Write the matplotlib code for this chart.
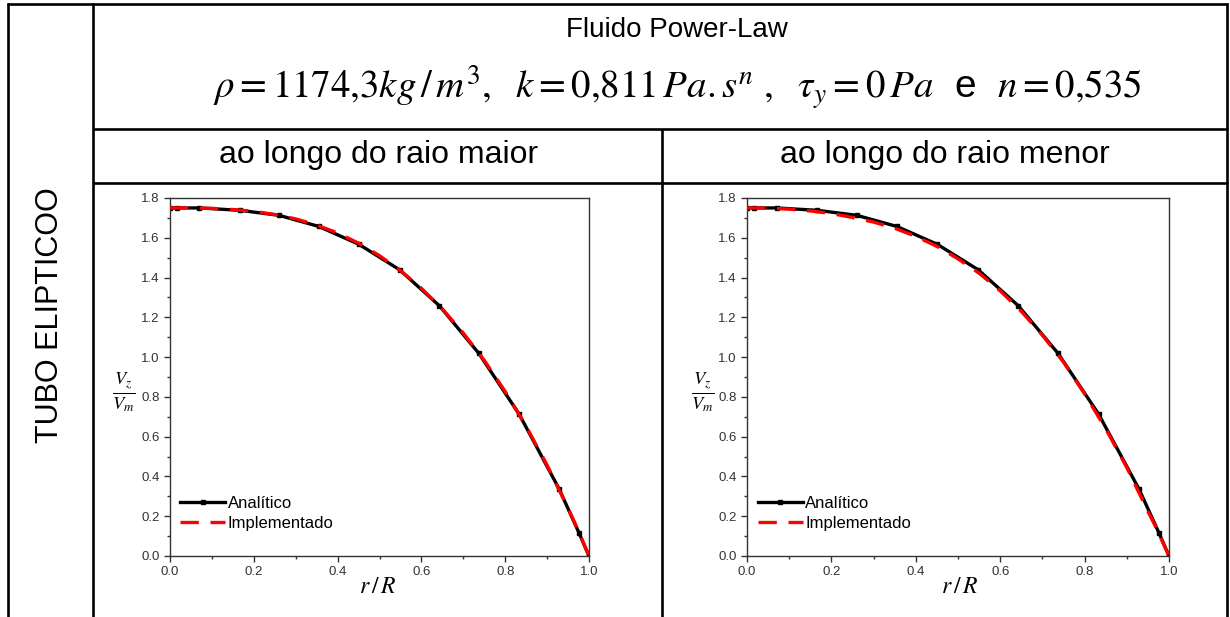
import matplotlib
matplotlib.use("Agg")
import matplotlib.pyplot as plt
from matplotlib.lines import Line2D
from matplotlib.ticker import MultipleLocator, FormatStrFormatter

plt.rcParams['font.family'] = ['Liberation Sans', 'DejaVu Sans']
plt.rcParams['mathtext.fontset'] = 'stix'

# ---- data ----
x_analitico = [0.0, 0.016, 0.070, 0.167, 0.260, 0.355, 0.451, 0.548, 0.643, 0.737, 0.833, 0.929, 0.976, 1.0]
y_analitico = [1.750, 1.750, 1.750, 1.738, 1.713, 1.657, 1.567, 1.439, 1.258, 1.019, 0.714, 0.336, 0.117, 0.0]

x_impl = [0.0, 0.05, 0.10, 0.15, 0.20, 0.25, 0.30, 0.35, 0.40, 0.45, 0.50,
          0.55, 0.60, 0.65, 0.70, 0.75, 0.80, 0.85, 0.90, 0.95, 0.97, 1.0]
y_impl_maior = [1.750, 1.750, 1.748, 1.742, 1.733, 1.717, 1.695, 1.664, 1.624, 1.573, 1.510,
                1.435, 1.346, 1.242, 1.121, 0.984, 0.827, 0.652, 0.457, 0.240, 0.148, 0.0]
y_impl_menor = [1.750, 1.749, 1.744, 1.735, 1.722, 1.702, 1.679, 1.648, 1.607, 1.557, 1.494,
                1.422, 1.333, 1.230, 1.110, 0.975, 0.815, 0.640, 0.445, 0.225, 0.140, 0.0]

panel_titles = ["ao longo do raio maior", "ao longo do raio menor"]
main_title = "Fluido Power-Law"
formula = (r"$\rho = 1174{,}3kg\,/\,m^3,\ \ k = 0{,}811\,Pa.s^n\ ,\ \ \tau_y = 0\,Pa$"
           r"  e  $n = 0{,}535$")
side_label = "TUBO ELIPTICOO"
legend_labels = ["Analítico", "Implementado"]

W, H = 1230, 617
fig = plt.figure(figsize=(W / 100, H / 100), dpi=100)


def fx(x):
    return x / W


def fy(y):
    return 1 - y / H


def hline(y, x0, x1, lw=1.9):
    fig.add_artist(Line2D([fx(x0), fx(x1)], [fy(y), fy(y)], color='black', lw=lw,
                          transform=fig.transFigure, solid_capstyle='butt'))


def vline(x, y0, y1, lw=1.9):
    fig.add_artist(Line2D([fx(x), fx(x)], [fy(y0), fy(y1)], color='black', lw=lw,
                          transform=fig.transFigure, solid_capstyle='butt'))


# table lines
hline(4, 7, 1228)
hline(129, 93, 1228)
hline(183, 93, 1228)
vline(8, 3, 617)
vline(93, 3, 617)
vline(1227, 3, 617)
vline(662, 129, 617)

# texts
fig.text(fx(677), fy(30), main_title, ha='center', va='center', fontsize=20)
fig.text(fx(677), fy(88), formula, ha='center', va='center', fontsize=28)
fig.text(fx(379), fy(155), panel_titles[0], ha='center', va='center', fontsize=23)
fig.text(fx(945), fy(155), panel_titles[1], ha='center', va='center', fontsize=23)
fig.text(fx(50), fy(315), side_label, ha='center', va='center', fontsize=22, rotation=90)

axes_px = [(170, 589), (747, 1169)]
ylab_x = [124, 703]
xlab_x = [378, 960]
impl_series = [y_impl_maior, y_impl_menor]

for i, (x0, x1) in enumerate(axes_px):
    ax = fig.add_axes([fx(x0), fy(556), (x1 - x0) / W, (556 - 198) / H])
    ax.plot(x_analitico, y_analitico, color='black', lw=2.4, marker='s', ms=3.5,
            label=legend_labels[0], zorder=2)
    ax.plot(x_impl, impl_series[i], color='red', lw=2.4, dashes=(5.5, 3.5),
            label=legend_labels[1], zorder=3)
    ax.set_xlim(0, 1.0)
    ax.set_ylim(0, 1.8)
    ax.xaxis.set_major_locator(MultipleLocator(0.2))
    ax.xaxis.set_minor_locator(MultipleLocator(0.1))
    ax.yaxis.set_major_locator(MultipleLocator(0.2))
    ax.yaxis.set_minor_locator(MultipleLocator(0.1))
    ax.xaxis.set_major_formatter(FormatStrFormatter('%.1f'))
    ax.yaxis.set_major_formatter(FormatStrFormatter('%.1f'))
    ax.tick_params(which='both', direction='out', top=False, right=False,
                   colors='#333333', labelsize=9.5, width=1.0)
    ax.tick_params(which='major', length=4.5, pad=3)
    ax.tick_params(which='minor', length=2.5)
    for s in ax.spines.values():
        s.set_color('#333333')
        s.set_linewidth(1.0)
    ax.legend(loc='lower left', bbox_to_anchor=(0.025, 0.07), frameon=False,
              fontsize=12, handlelength=2.7, handletextpad=0.15,
              labelspacing=0.3, borderpad=0, borderaxespad=0)
    fig.text(fx(ylab_x[i]), fy(392), r"$\frac{V_z}{V_m}$", ha='center', va='center', fontsize=19)
    fig.text(fx(xlab_x[i]), fy(587), r"$r\,/\,R$", ha='center', va='center', fontsize=17)

fig.savefig("out.png", dpi=100)
